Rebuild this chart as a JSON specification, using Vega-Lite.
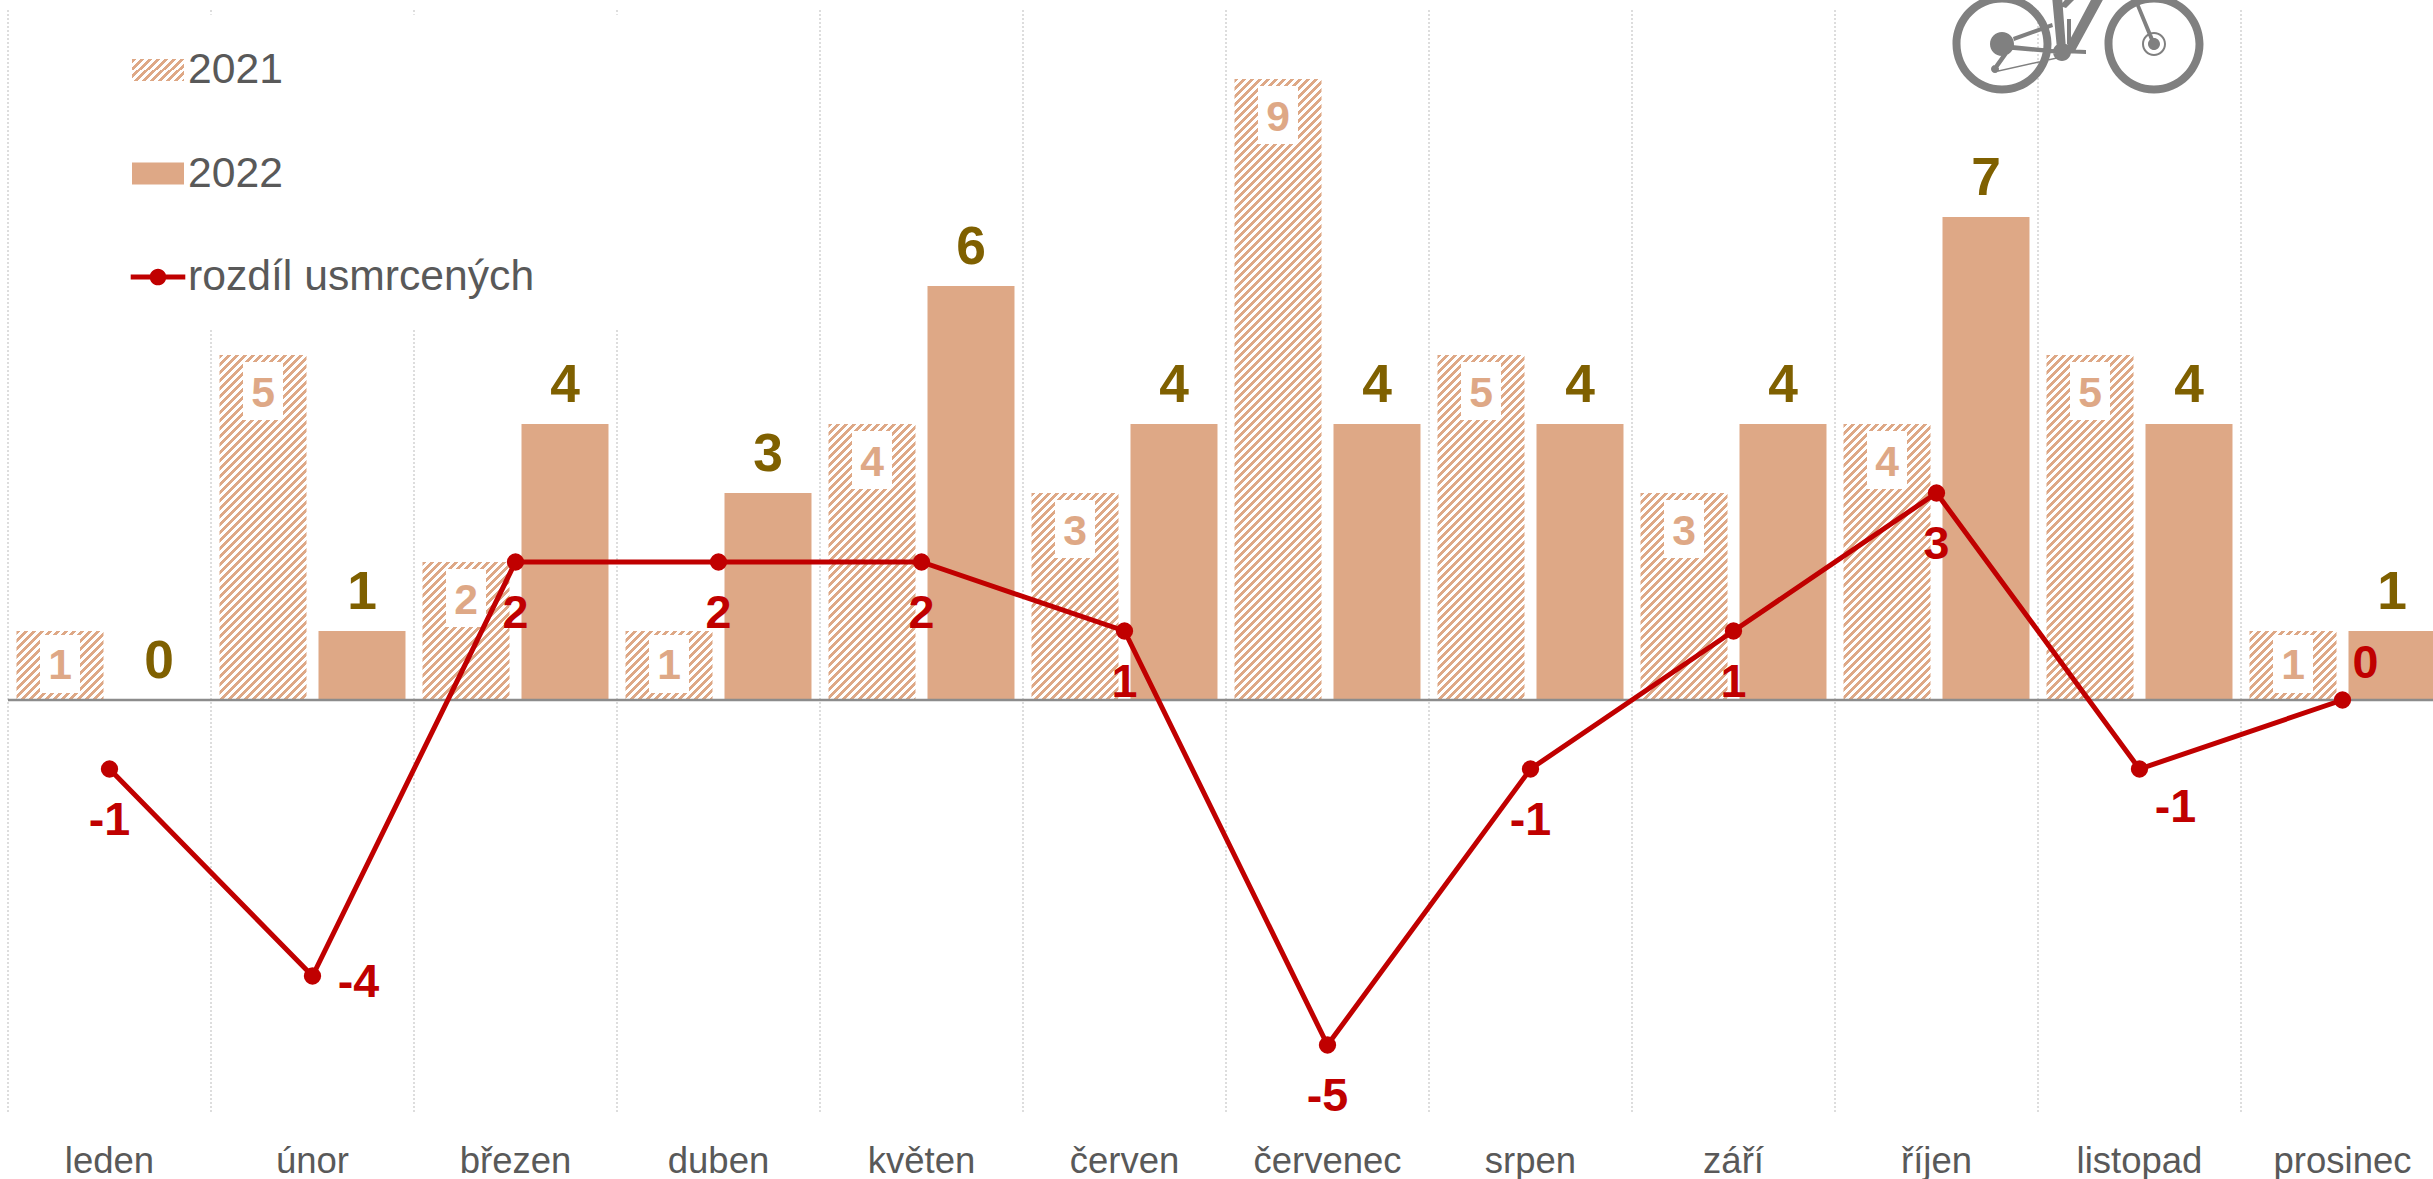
{"$schema":"https://vega.github.io/schema/vega-lite/v6.json","width":2436,"height":1104,"autosize":"none","padding":{"left":8,"top":10,"right":-11,"bottom":65},"background":"white",
"params":[{"name":"a","value":"#DEA886"},{"name":"b","value":"#ffffff"},{"name":"hatch","expr":"[{offset:0,color:a},{offset:.005,color:a},{offset:.005,color:b},{offset:.01,color:b},{offset:.01,color:a},{offset:.015,color:a},{offset:.015,color:b},{offset:.02,color:b},{offset:.02,color:a},{offset:.025,color:a},{offset:.025,color:b},{offset:.03,color:b},{offset:.03,color:a},{offset:.035,color:a},{offset:.035,color:b},{offset:.04,color:b},{offset:.04,color:a},{offset:.045,color:a},{offset:.045,color:b},{offset:.05,color:b},{offset:.05,color:a},{offset:.055,color:a},{offset:.055,color:b},{offset:.06,color:b},{offset:.06,color:a},{offset:.065,color:a},{offset:.065,color:b},{offset:.07,color:b},{offset:.07,color:a},{offset:.075,color:a},{offset:.075,color:b},{offset:.08,color:b},{offset:.08,color:a},{offset:.085,color:a},{offset:.085,color:b},{offset:.09,color:b},{offset:.09,color:a},{offset:.095,color:a},{offset:.095,color:b},{offset:.1,color:b},{offset:.1,color:a},{offset:.105,color:a},{offset:.105,color:b},{offset:.11,color:b},{offset:.11,color:a},{offset:.115,color:a},{offset:.115,color:b},{offset:.12,color:b},{offset:.12,color:a},{offset:.125,color:a},{offset:.125,color:b},{offset:.13,color:b},{offset:.13,color:a},{offset:.135,color:a},{offset:.135,color:b},{offset:.14,color:b},{offset:.14,color:a},{offset:.145,color:a},{offset:.145,color:b},{offset:.15,color:b},{offset:.15,color:a},{offset:.155,color:a},{offset:.155,color:b},{offset:.16,color:b},{offset:.16,color:a},{offset:.165,color:a},{offset:.165,color:b},{offset:.17,color:b},{offset:.17,color:a},{offset:.175,color:a},{offset:.175,color:b},{offset:.18,color:b},{offset:.18,color:a},{offset:.185,color:a},{offset:.185,color:b},{offset:.19,color:b},{offset:.19,color:a},{offset:.195,color:a},{offset:.195,color:b},{offset:.2,color:b},{offset:.2,color:a},{offset:.205,color:a},{offset:.205,color:b},{offset:.21,color:b},{offset:.21,color:a},{offset:.215,color:a},{offset:.215,color:b},{offset:.22,color:b},{offset:.22,color:a},{offset:.225,color:a},{offset:.225,color:b},{offset:.23,color:b},{offset:.23,color:a},{offset:.235,color:a},{offset:.235,color:b},{offset:.24,color:b},{offset:.24,color:a},{offset:.245,color:a},{offset:.245,color:b},{offset:.25,color:b},{offset:.25,color:a},{offset:.255,color:a},{offset:.255,color:b},{offset:.26,color:b},{offset:.26,color:a},{offset:.265,color:a},{offset:.265,color:b},{offset:.27,color:b},{offset:.27,color:a},{offset:.275,color:a},{offset:.275,color:b},{offset:.28,color:b},{offset:.28,color:a},{offset:.285,color:a},{offset:.285,color:b},{offset:.29,color:b},{offset:.29,color:a},{offset:.295,color:a},{offset:.295,color:b},{offset:.3,color:b},{offset:.3,color:a},{offset:.305,color:a},{offset:.305,color:b},{offset:.31,color:b},{offset:.31,color:a},{offset:.315,color:a},{offset:.315,color:b},{offset:.32,color:b},{offset:.32,color:a},{offset:.325,color:a},{offset:.325,color:b},{offset:.33,color:b},{offset:.33,color:a},{offset:.335,color:a},{offset:.335,color:b},{offset:.34,color:b},{offset:.34,color:a},{offset:.345,color:a},{offset:.345,color:b},{offset:.35,color:b},{offset:.35,color:a},{offset:.355,color:a},{offset:.355,color:b},{offset:.36,color:b},{offset:.36,color:a},{offset:.365,color:a},{offset:.365,color:b},{offset:.37,color:b},{offset:.37,color:a},{offset:.375,color:a},{offset:.375,color:b},{offset:.38,color:b},{offset:.38,color:a},{offset:.385,color:a},{offset:.385,color:b},{offset:.39,color:b},{offset:.39,color:a},{offset:.395,color:a},{offset:.395,color:b},{offset:.4,color:b},{offset:.4,color:a},{offset:.405,color:a},{offset:.405,color:b},{offset:.41,color:b},{offset:.41,color:a},{offset:.415,color:a},{offset:.415,color:b},{offset:.42,color:b},{offset:.42,color:a},{offset:.425,color:a},{offset:.425,color:b},{offset:.43,color:b},{offset:.43,color:a},{offset:.435,color:a},{offset:.435,color:b},{offset:.44,color:b},{offset:.44,color:a},{offset:.445,color:a},{offset:.445,color:b},{offset:.45,color:b},{offset:.45,color:a},{offset:.455,color:a},{offset:.455,color:b},{offset:.46,color:b},{offset:.46,color:a},{offset:.465,color:a},{offset:.465,color:b},{offset:.47,color:b},{offset:.47,color:a},{offset:.475,color:a},{offset:.475,color:b},{offset:.48,color:b},{offset:.48,color:a},{offset:.485,color:a},{offset:.485,color:b},{offset:.49,color:b},{offset:.49,color:a},{offset:.495,color:a},{offset:.495,color:b},{offset:.5,color:b},{offset:.5,color:a},{offset:.505,color:a},{offset:.505,color:b},{offset:.51,color:b},{offset:.51,color:a},{offset:.515,color:a},{offset:.515,color:b},{offset:.52,color:b},{offset:.52,color:a},{offset:.525,color:a},{offset:.525,color:b},{offset:.53,color:b},{offset:.53,color:a},{offset:.535,color:a},{offset:.535,color:b},{offset:.54,color:b},{offset:.54,color:a},{offset:.545,color:a},{offset:.545,color:b},{offset:.55,color:b},{offset:.55,color:a},{offset:.555,color:a},{offset:.555,color:b},{offset:.56,color:b},{offset:.56,color:a},{offset:.565,color:a},{offset:.565,color:b},{offset:.57,color:b},{offset:.57,color:a},{offset:.575,color:a},{offset:.575,color:b},{offset:.58,color:b},{offset:.58,color:a},{offset:.585,color:a},{offset:.585,color:b},{offset:.59,color:b},{offset:.59,color:a},{offset:.595,color:a},{offset:.595,color:b},{offset:.6,color:b},{offset:.6,color:a},{offset:.605,color:a},{offset:.605,color:b},{offset:.61,color:b},{offset:.61,color:a},{offset:.615,color:a},{offset:.615,color:b},{offset:.62,color:b},{offset:.62,color:a},{offset:.625,color:a},{offset:.625,color:b},{offset:.63,color:b},{offset:.63,color:a},{offset:.635,color:a},{offset:.635,color:b},{offset:.64,color:b},{offset:.64,color:a},{offset:.645,color:a},{offset:.645,color:b},{offset:.65,color:b},{offset:.65,color:a},{offset:.655,color:a},{offset:.655,color:b},{offset:.66,color:b},{offset:.66,color:a},{offset:.665,color:a},{offset:.665,color:b},{offset:.67,color:b},{offset:.67,color:a},{offset:.675,color:a},{offset:.675,color:b},{offset:.68,color:b},{offset:.68,color:a},{offset:.685,color:a},{offset:.685,color:b},{offset:.69,color:b},{offset:.69,color:a},{offset:.695,color:a},{offset:.695,color:b},{offset:.7,color:b},{offset:.7,color:a},{offset:.705,color:a},{offset:.705,color:b},{offset:.71,color:b},{offset:.71,color:a},{offset:.715,color:a},{offset:.715,color:b},{offset:.72,color:b},{offset:.72,color:a},{offset:.725,color:a},{offset:.725,color:b},{offset:.73,color:b},{offset:.73,color:a},{offset:.735,color:a},{offset:.735,color:b},{offset:.74,color:b},{offset:.74,color:a},{offset:.745,color:a},{offset:.745,color:b},{offset:.75,color:b},{offset:.75,color:a},{offset:.755,color:a},{offset:.755,color:b},{offset:.76,color:b},{offset:.76,color:a},{offset:.765,color:a},{offset:.765,color:b},{offset:.77,color:b},{offset:.77,color:a},{offset:.775,color:a},{offset:.775,color:b},{offset:.78,color:b},{offset:.78,color:a},{offset:.785,color:a},{offset:.785,color:b},{offset:.79,color:b},{offset:.79,color:a},{offset:.795,color:a},{offset:.795,color:b},{offset:.8,color:b},{offset:.8,color:a},{offset:.805,color:a},{offset:.805,color:b},{offset:.81,color:b},{offset:.81,color:a},{offset:.815,color:a},{offset:.815,color:b},{offset:.82,color:b},{offset:.82,color:a},{offset:.825,color:a},{offset:.825,color:b},{offset:.83,color:b},{offset:.83,color:a},{offset:.835,color:a},{offset:.835,color:b},{offset:.84,color:b},{offset:.84,color:a},{offset:.845,color:a},{offset:.845,color:b},{offset:.85,color:b},{offset:.85,color:a},{offset:.855,color:a},{offset:.855,color:b},{offset:.86,color:b},{offset:.86,color:a},{offset:.865,color:a},{offset:.865,color:b},{offset:.87,color:b},{offset:.87,color:a},{offset:.875,color:a},{offset:.875,color:b},{offset:.88,color:b},{offset:.88,color:a},{offset:.885,color:a},{offset:.885,color:b},{offset:.89,color:b}]"}],
"datasets":{
"bars":[{"month":"leden","series":"2021","value":1},{"month":"leden","series":"2022","value":0},{"month":"únor","series":"2021","value":5},{"month":"únor","series":"2022","value":1},{"month":"březen","series":"2021","value":2},{"month":"březen","series":"2022","value":4},{"month":"duben","series":"2021","value":1},{"month":"duben","series":"2022","value":3},{"month":"květen","series":"2021","value":4},{"month":"květen","series":"2022","value":6},{"month":"červen","series":"2021","value":3},{"month":"červen","series":"2022","value":4},{"month":"červenec","series":"2021","value":9},{"month":"červenec","series":"2022","value":4},{"month":"srpen","series":"2021","value":5},{"month":"srpen","series":"2022","value":4},{"month":"září","series":"2021","value":3},{"month":"září","series":"2022","value":4},{"month":"říjen","series":"2021","value":4},{"month":"říjen","series":"2022","value":7},{"month":"listopad","series":"2021","value":5},{"month":"listopad","series":"2022","value":4},{"month":"prosinec","series":"2021","value":1},{"month":"prosinec","series":"2022","value":1}],
"diff":[{"month":"leden","diff":-1},{"month":"únor","diff":-4},{"month":"březen","diff":2},{"month":"duben","diff":2},{"month":"květen","diff":2},{"month":"červen","diff":1},{"month":"červenec","diff":-5},{"month":"srpen","diff":-1},{"month":"září","diff":1},{"month":"říjen","diff":3},{"month":"listopad","diff":-1},{"month":"prosinec","diff":0}]},
"layer":[
{"data":{"name":"diff"},"mark":{"type":"rule","color":"#dddddd","strokeWidth":2,"strokeDash":[2,2]},
"encoding":{"x":{"field":"month","type":"nominal","bandPosition":0,"sort":null,"scale":{"domain":["leden","únor","březen","duben","květen","červen","červenec","srpen","září","říjen","listopad","prosinec"],"paddingInner":0,"paddingOuter":0},"axis":{"title":null,"ticks":false,"domain":false,"grid":false,"labelAngle":0,"labelFont":"Liberation Sans","labelFontSize":36.5,"labelColor":"#595959","labelBaseline":"alphabetic","labelPadding":58,"labelLimit":400,"labelOverlap":false,"bandPosition":0.5}}}},
{"data":{"values":[{"month":"únor","horni":9.93,"dolni":5.39},{"month":"březen","horni":9.93,"dolni":5.39},{"month":"duben","horni":9.93,"dolni":5.39}]},"mark":{"type":"rule","color":"white","strokeWidth":5},
"encoding":{"x":{"field":"month","type":"nominal","bandPosition":0},"y":{"field":"horni","type":"quantitative","scale":{"domain":[-6,10],"nice":false,"zero":false},"axis":null},"y2":{"field":"dolni"}}},
{"data":{"name":"bars"},"transform":[{"filter":"datum.series=='2021'"}],"mark":{"type":"bar","strokeWidth":0,"fill":{"expr":"{gradient:'linear',x1:0,y1:0,x2:800*87/(87*87+69*datum.value*69*datum.value),y2:800*69*datum.value/(87*87+69*datum.value*69*datum.value),stops:hatch}"}},
"encoding":{"x":{"field":"month","type":"nominal"},"xOffset":{"field":"series","type":"nominal","scale":{"domain":["2021","2022"],"paddingInner":0.1212,"paddingOuter":0.0859}},"y":{"field":"value","type":"quantitative"}}},
{"data":{"name":"bars"},"transform":[{"filter":"datum.series=='2021'"}],"mark":{"type":"point","filled":true,"fill":"white","opacity":1,"size":3364,"shape":"M-.69,-1H.69V1H-.69Z","yOffset":{"expr":"datum.value==1?33:36"}},
"encoding":{"x":{"field":"month","type":"nominal"},"xOffset":{"field":"series","type":"nominal"},"y":{"field":"value","type":"quantitative"}}},
{"data":{"name":"bars"},"transform":[{"filter":"datum.series=='2022'"}],"mark":{"type":"bar","fill":"#DEA886","strokeWidth":0},
"encoding":{"x":{"field":"month","type":"nominal"},"xOffset":{"field":"series","type":"nominal"},"y":{"field":"value","type":"quantitative"}}},
{"data":{"values":[{"nula":0}]},"mark":{"type":"rule","color":"#8c8c8c","strokeWidth":2.5},"encoding":{"y":{"field":"nula","type":"quantitative"}}},
{"data":{"name":"bars"},"transform":[{"filter":"datum.series=='2021'"}],"mark":{"type":"text","font":"Liberation Sans","fontWeight":"bold","fontSize":42.67,"color":"#DEA886","baseline":"alphabetic","dy":{"expr":"datum.value==1?48:52"}},
"encoding":{"x":{"field":"month","type":"nominal"},"xOffset":{"field":"series","type":"nominal"},"y":{"field":"value","type":"quantitative"},"text":{"field":"value","type":"nominal"}}},
{"data":{"name":"bars"},"transform":[{"filter":"datum.series=='2022'"}],"mark":{"type":"text","font":"Liberation Sans","fontWeight":"bold","fontSize":53.33,"color":"#7F6000","baseline":"alphabetic","dy":-22},
"encoding":{"x":{"field":"month","type":"nominal"},"xOffset":{"field":"series","type":"nominal"},"y":{"field":"value","type":"quantitative"},"text":{"field":"value","type":"nominal"}}},
{"data":{"name":"diff"},"mark":{"type":"line","color":"#C00000","strokeWidth":5,"clip":false},"encoding":{"x":{"field":"month","type":"nominal","sort":null},"y":{"field":"diff","type":"quantitative"}}},
{"data":{"name":"diff"},"mark":{"type":"point","filled":true,"fill":"#C00000","opacity":1,"size":300},"encoding":{"x":{"field":"month","type":"nominal"},"y":{"field":"diff","type":"quantitative"}}},
{"data":{"name":"diff"},"mark":{"type":"text","font":"Liberation Sans","fontWeight":"bold","fontSize":46.67,"color":"#C00000","baseline":"alphabetic","dx":{"expr":"datum.month=='únor'?46:datum.month=='listopad'?36:datum.month=='prosinec'?23:0"},"dy":{"expr":"datum.month=='únor'?21:datum.month=='listopad'?53:datum.month=='prosinec'?-22:66"}},
"encoding":{"x":{"field":"month","type":"nominal"},"y":{"field":"diff","type":"quantitative"},"text":{"field":"diff","type":"nominal"}}},
{"data":{"values":[{"month":"listopad","vyska":9.507,"ikona":"kolo"}]},"mark":{"type":"point","filled":true,"fill":"#808080","opacity":1,"size":40000,"xOffset":-61.5,"clip":false,"shape":"M-1.255,0A.495,.495,0,1,1,-.265,0A.495,.495,0,1,1,-1.255,0ZM-1.175,0A.415,.415,0,1,0,-.345,0A.415,.415,0,1,0,-1.175,0ZM.265,0A.495,.495,0,1,1,1.255,0A.495,.495,0,1,1,.265,0ZM.345,0A.415,.415,0,1,0,1.175,0A.415,.415,0,1,0,.345,0ZM-.88,0A.12,.12,0,1,1,-.64,0A.12,.12,0,1,1,-.88,0ZM-.25,.08A.09,.09,0,1,1,-.07,.08A.09,.09,0,1,1,-.25,.08ZM-.76,0L-.16,.06L-.16,.1L-.76,.05ZM-.65,-.07L-.26,-.21L-.25,-.17L-.64,-.03ZM-.13,.05L.15,-.48L.27,-.48L-.03,.07ZM-.26,-.48L-.16,-.48L-.12,.05L-.21,.05ZM-.16,.05L.08,.06L.08,.1L-.16,.09ZM.54,-.48L.58,-.48L.78,0L.74,.01ZM.7,0A.06,.06,0,1,1,.82,0A.06,.06,0,1,1,.7,0ZM.64,0A.12,.12,0,1,1,.88,0A.12,.12,0,1,1,.64,0ZM.66,0A.1,.1,0,1,0,.86,0A.1,.1,0,1,0,.66,0ZM-.74,.08L-.7,.1L-.8,.24L-.84,.22ZM-.87,.25A.04,.04,0,1,1,-.79,.25A.04,.04,0,1,1,-.87,.25ZM-.83,.27L-.2,.13L-.2,.145L-.83,.285ZM-.11,-.25L-.07,-.25L-.07,0L-.11,0ZM-.1,-.48L0,-.48L-.12,-.36L-.18,-.38Z"},
"encoding":{"x":{"field":"month","type":"nominal"},"y":{"field":"vyska","type":"quantitative"}}},
{"data":{"values":[{"serie":"2021"},{"serie":"2022"},{"serie":"rozdíl usmrcených"}]},"mark":{"type":"point","filled":true,"size":0,"opacity":1},
"encoding":{"fill":{"field":"serie","type":"nominal","scale":{"domain":["2021","2022","rozdíl usmrcených"],"range":[{"expr":"{gradient:'linear',x1:0,y1:0,x2:13.05,y2:5.52,stops:hatch}"},"#DEA886","#C00000"]},"legend":{"title":null,"orient":"none","legendX":124,"legendY":34,"symbolSize":2704,"symbolOpacity":1,"symbolStrokeWidth":0,"labelFont":"Liberation Sans","labelFontSize":42.67,"labelColor":"#595959","labelOffset":4,"labelLimit":500,"rowPadding":55.5,"padding":0}},"shape":{"field":"serie","type":"nominal","scale":{"domain":["2021","2022","rozdíl usmrcených"],"range":["M-1,-.42H1V.42H-1Z","M-1,-.42H1V.42H-1Z","M-1.05,-.1H1.05V.1H-1.05ZM-.32,0A.32,.32,0,1,1,.32,0A.32,.32,0,1,1,-.32,0Z"]}}}}
],
"config":{"view":{"stroke":null}}}
